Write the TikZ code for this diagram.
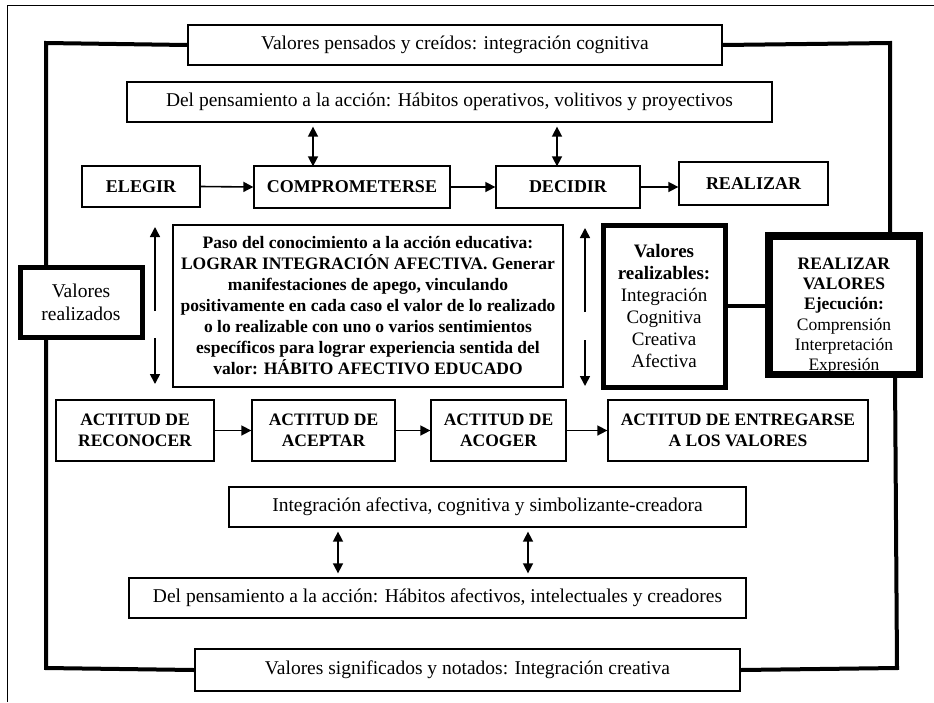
\documentclass[tikz,border=0pt]{standalone}
\usepackage{fontspec}
\setmainfont{Liberation Serif}
\usetikzlibrary{arrows.meta,calc}
\pgfdeclarelayer{back}
\pgfsetlayers{back,main}

\begin{document}
\begin{tikzpicture}[x=1pt,y=-1pt,
  box/.style={draw,line width=1.3pt,fill=white,inner sep=0pt,align=center,
    font=\fontsize{19.5}{23}\selectfont},
  boldbox/.style={box,font=\fontsize{17.5}{21}\selectfont\bfseries},
  rowbox/.style={box,font=\fontsize{18}{21}\selectfont\bfseries},
  heavybox/.style={box,line width=5pt},
  loop/.style={line width=4pt,line cap=rect},
  tip/.tip={Triangle[length=10pt,width=10pt]},
  flow/.style={line width=1.6pt,-tip},
  dbl/.style={line width=1.6pt,tip-tip},
]
\useasboundingbox (0,0) rectangle (934,702);

% page frame
\draw[line width=0.8pt] (7,702) -- (7,5) -- (934,5);

% corners of the thick outer loop
\coordinate (tl) at (46,43);
\coordinate (tr) at (890,43);
\coordinate (br) at (897,668);
\coordinate (bl) at (46,668);

% top and bottom boxes of the loop
\node[box,minimum width=534,minimum height=40] (top) at (455,45)
  {Valores pensados y creídos: integración cognitiva};
\node[box,minimum width=545,minimum height=42] (bot) at (467.5,670)
  {Valores significados y notados: Integración creativa};
\node[heavybox,minimum width=122,minimum height=70,font=\fontsize{19.5}{23}\selectfont] (vr) at (81,302)
  {Valores\\realizados};

% realizar valores: text sits low and is cut by the frame
\node[heavybox,minimum width=148,minimum height=136] (rv) at (844,305) {};
\node[inner sep=0pt,align=center,font=\fontsize{17.5}{20.2}\selectfont] (rvtext)
  at ([yshift=-11pt]rv.center)
  {\textbf{REALIZAR}\\\textbf{VALORES}\\\textbf{Ejecución:}\\Comprensión\\Interpretación\\Expresión};
\draw[line width=5pt] (rv.north west) rectangle (rv.south east);

% thick loop behind the boxes
\begin{pgfonlayer}{back}
\draw[loop] (top.east) -- (tr) -- (tr |- rv.north);
\draw[loop] (rv.south -| 895,0) -- (br) -- (bot.east);
\draw[loop] (bot.west) -- (bl) -- (bl |- vr.south);
\draw[loop] (vr.north -| tl) -- (tl) -- (top.west);
\end{pgfonlayer}

% upper habits box
\node[box,minimum width=645,minimum height=40] (hab1) at (449.5,102)
  {Del pensamiento a la acción: Hábitos operativos, volitivos y proyectivos};

% first row
\node[rowbox,minimum width=118,minimum height=41] (eleg) at (141,186.5) {ELEGIR};
\node[rowbox,minimum width=196,minimum height=42] (comp) at (352,187) {COMPROMETERSE};
\node[rowbox,minimum width=144,minimum height=42] (deci) at (568,187) {DECIDIR};
\node[rowbox,minimum width=149,minimum height=43] (real) at (753.5,183.5) {REALIZAR};

\draw[flow] (eleg.east) -- (comp.west);
\draw[flow] (comp.east) -- (deci.west);
\draw[flow] (deci.east) -- (deci.east -| real.west);

\coordinate (a1) at (313,0);
\coordinate (a2) at (557,0);
\draw[dbl,shorten <=4pt,shorten >=-1pt] (hab1.south -| a1) -- (comp.north -| a1);
\draw[dbl,shorten <=4pt,shorten >=-1pt] (hab1.south -| a2) -- (deci.north -| a2);

% central box
\node[boldbox,minimum width=390,minimum height=162] (cen) at (368,306)
  {Paso del conocimiento a la acción educativa:\\
   LOGRAR INTEGRACIÓN AFECTIVA. Generar\\
   manifestaciones de apego, vinculando\\
   positivamente en cada caso el valor de lo realizado\\
   o lo realizable con uno o varios sentimientos\\
   específicos para lograr experiencia sentida del\\
   valor: HÁBITO AFECTIVO EDUCADO};

% valores realizables
\node[heavybox,minimum width=122,minimum height=162,font=\fontsize{19}{22}\selectfont] (vz) at (664,306)
  {\textbf{Valores}\\\textbf{realizables:}\\Integración\\Cognitiva\\Creativa\\Afectiva};
\begin{pgfonlayer}{back}
\draw[loop,line cap=butt] (vz.east) -- (vz.east -| rv.west);
\end{pgfonlayer}

% vertical arrows beside the central box
\coordinate (lu1) at (155,311);
\coordinate (lu2) at (155,227);
\coordinate (ld1) at (155,338);
\coordinate (ld2) at (155,384);
\coordinate (ru1) at (585,312);
\coordinate (ru2) at (585,228);
\coordinate (rd1) at (585,340);
\coordinate (rd2) at (585,386);
\draw[flow] (lu1) -- (lu2);
\draw[flow] (ld1) -- (ld2);
\draw[flow] (ru1) -- (ru2);
\draw[flow] (rd1) -- (rd2);

% second row
\node[boldbox,minimum width=158,minimum height=61] (rec) at (135,430.5) {ACTITUD DE\\RECONOCER};
\node[boldbox,minimum width=143,minimum height=61] (acep) at (323.5,430.5) {ACTITUD DE\\ACEPTAR};
\node[boldbox,minimum width=135,minimum height=61] (acog) at (498.5,430.5) {ACTITUD DE\\ACOGER};
\node[boldbox,minimum width=260,minimum height=61] (entr) at (738,430.5) {ACTITUD DE ENTREGARSE\\A LOS VALORES};

\draw[flow] (rec.east) -- (acep.west);
\draw[flow] (acep.east) -- (acog.west);
\draw[flow] (acog.east) -- (entr.west);

% lower boxes
\node[box,minimum width=517,minimum height=40] (integ) at (487.5,507)
  {Integración afectiva, cognitiva y simbolizante-creadora};
\node[box,minimum width=617,minimum height=40] (hab2) at (437.5,598)
  {Del pensamiento a la acción: Hábitos afectivos, intelectuales y creadores};

\coordinate (b1) at (338,0);
\coordinate (b2) at (528,0);
\draw[dbl,shorten <=4pt,shorten >=4pt] (integ.south -| b1) -- (hab2.north -| b1);
\draw[dbl,shorten <=4pt,shorten >=4pt] (integ.south -| b2) -- (hab2.north -| b2);
\end{tikzpicture}
\end{document}
